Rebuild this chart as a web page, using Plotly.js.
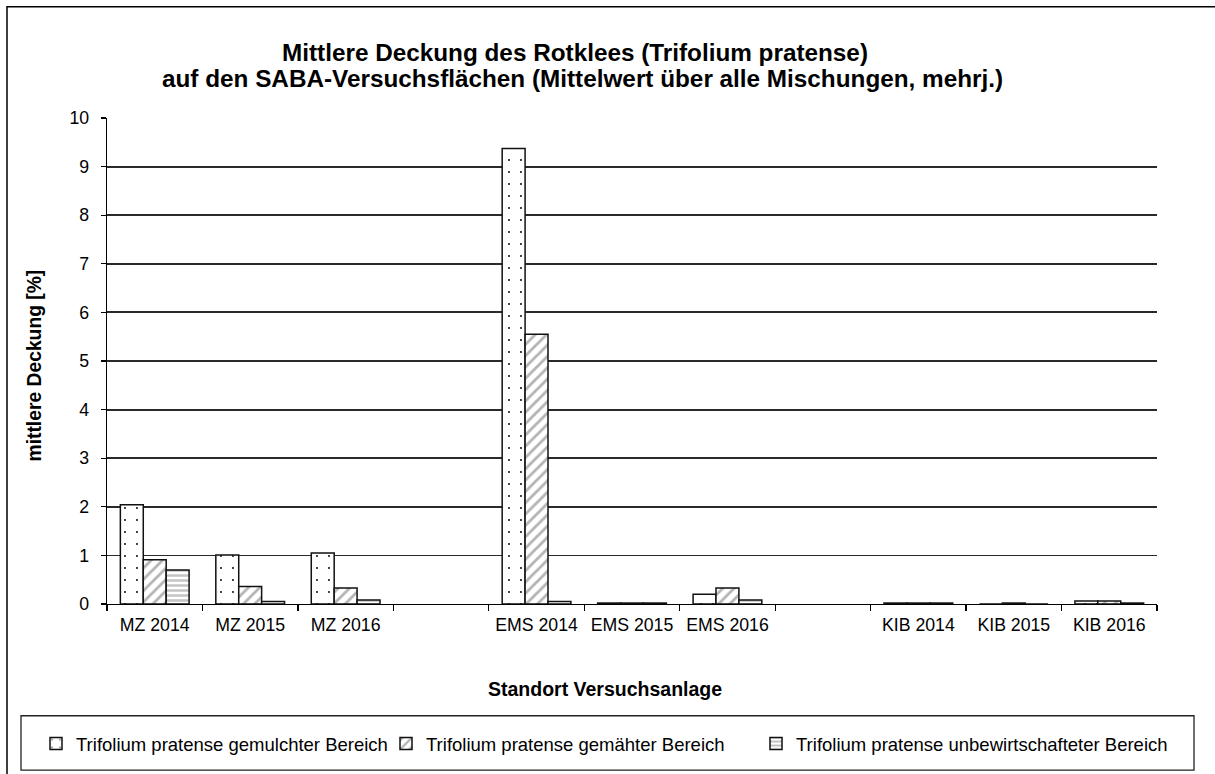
<!DOCTYPE html>
<html>
<head>
<meta charset="utf-8">
<script src="https://cdn.plot.ly/plotly-3.0.1.min.js"></script>
<style>
  html, body { margin: 0; padding: 0; background: #fff; }
  #chart { width: 1215px; height: 774px; }
</style>
</head>
<body>
<div id="chart"></div>
<script>
// ---- data ----
var categories = ['MZ 2014', 'MZ 2015', 'MZ 2016', ' ', 'EMS 2014', 'EMS 2015', 'EMS 2016', '  ', 'KIB 2014', 'KIB 2015', 'KIB 2016'];
var seriesNames = [
  'Trifolium pratense gemulchter Bereich',
  'Trifolium pratense gemähter Bereich',
  'Trifolium pratense unbewirtschafteter Bereich'
];
var mulched   = [2.04, 1.01, 1.05, null, 9.37, 0.02, 0.20, null, 0.02, 0,    0.06];
var mowed     = [0.91, 0.36, 0.33, null, 5.55, 0.02, 0.33, null, 0.02, 0.02, 0.06];
var unmanaged = [0.70, 0.05, 0.08, null, 0.05, 0.02, 0.08, null, 0.02, 0,    0.02];
var yTicks = [0, 1, 2, 3, 4, 5, 6, 7, 8, 9, 10];

var titleLine1 = 'Mittlere Deckung des Rotklees (Trifolium pratense)';
var titleLine2 = 'auf den SABA-Versuchsflächen (Mittelwert über alle Mischungen, mehrj.)';
var xTitle = 'Standort Versuchsanlage';
var yTitle = 'mittlere Deckung [%]';

// ---- styling / layout ----
var FONT = 'Liberation Sans, Arial, Helvetica, sans-serif';
var W = 1215, H = 774;
var L = 107, R = 1157, T = 118, B = 605;
function px(xp) { return (xp - L) / (R - L); }
function py(yp) { return (B - yp) / (B - T); }

var patterns = [
  {shape: '.', fgcolor: '#000000', bgcolor: '#ffffff', size: 12, solidity: 0.02, fillmode: 'replace'},
  {shape: '/', fgcolor: '#b4b4b4', bgcolor: '#ffffff', size: 8, solidity: 0.35, fillmode: 'replace'},
  {shape: '-', fgcolor: '#c4c4c4', bgcolor: '#ffffff', size: 5, solidity: 0.5, fillmode: 'replace'}
];
var values = [mulched, mowed, unmanaged];
var legendIds = ['legend', 'legend2', 'legend3'];
var legendX = [36, 386, 756];

var traces = values.map(function (v, i) {
  return {
    type: 'bar',
    name: seriesNames[i],
    legend: legendIds[i],
    x: categories,
    y: v,
    marker: {
      color: '#ffffff',
      pattern: patterns[i],
      line: {color: '#111111', width: 1.5}
    },
    hoverinfo: 'x+y+name'
  };
});

var layout = {
  width: W, height: H,
  margin: {l: L, r: W - R, t: T, b: H - B},
  paper_bgcolor: '#ffffff',
  plot_bgcolor: '#ffffff',
  font: {family: FONT, color: '#000000', size: 18},
  barmode: 'group',
  bargap: 0.28,
  bargroupgap: 0,
  showlegend: true,
  title: {
    text: '<b>' + titleLine1 + '</b>',
    font: {family: FONT, size: 24.3, color: '#000000'},
    xref: 'paper', x: px(575), xanchor: 'center',
    yref: 'container', y: 1 - 52 / H, yanchor: 'middle'
  },
  xaxis: {
    type: 'category',
    categoryorder: 'array',
    categoryarray: categories,
    tickson: 'boundaries',
    ticks: 'outside', ticklen: 6, tickwidth: 1.3, tickcolor: '#000',
    showline: true, linecolor: '#000', linewidth: 1.3,
    showgrid: false, zeroline: false,
    tickfont: {family: FONT, size: 17.7, color: '#000'},
    ticklabelstandoff: 4,
    fixedrange: true
  },
  yaxis: {
    range: [0, 10],
    tickvals: yTicks,
    ticks: 'outside', ticklen: 5, tickwidth: 1.3, tickcolor: '#000',
    showline: true, linecolor: '#000', linewidth: 1.3,
    showgrid: true, gridcolor: '#2a2a2a', gridwidth: 1.8,
    zeroline: false,
    tickfont: {family: FONT, size: 17.7, color: '#000'},
    ticklabelstandoff: 8,
    fixedrange: true
  },
  annotations: [
    {
      text: '<b>' + titleLine2 + '</b>', showarrow: false,
      xref: 'paper', yref: 'paper', x: px(582), y: py(78),
      xanchor: 'center', yanchor: 'middle',
      font: {family: FONT, size: 24.3, color: '#000'}
    },
    {
      text: '<b>' + xTitle + '</b>', showarrow: false,
      xref: 'paper', yref: 'paper', x: px(605), y: py(690),
      xanchor: 'center', yanchor: 'middle',
      font: {family: FONT, size: 19.5, color: '#000'}
    },
    {
      text: '<b>' + yTitle + '</b>', showarrow: false, textangle: -90,
      xref: 'paper', yref: 'paper', x: px(34), y: py(366),
      xanchor: 'center', yanchor: 'middle',
      font: {family: FONT, size: 19.3, color: '#000'}
    }
  ],
  shapes: [
    // outer chart border (left and top visible)
    {type: 'rect', xref: 'paper', yref: 'paper', layer: 'above',
     x0: px(7), x1: px(1225), y0: py(785), y1: py(6.5),
     line: {color: '#000', width: 1.5}, fillcolor: 'rgba(0,0,0,0)'},
    // legend frame
    {type: 'rect', xref: 'paper', yref: 'paper', layer: 'below',
     x0: px(21), x1: px(1194), y0: py(771.5), y1: py(717),
     line: {color: '#222', width: 1.3}, fillcolor: 'rgba(0,0,0,0)'}
  ]
};

legendIds.forEach(function (id, i) {
  layout[id] = {
    orientation: 'h',
    x: px(legendX[i]), xanchor: 'left',
    y: py(744), yanchor: 'middle',
    font: {family: FONT, size: 18.5, color: '#000'},
    bgcolor: 'rgba(0,0,0,0)',
    borderwidth: 0
  };
});

Plotly.newPlot('chart', traces, layout, {displayModeBar: false, staticPlot: true});
</script>
</body>
</html>
